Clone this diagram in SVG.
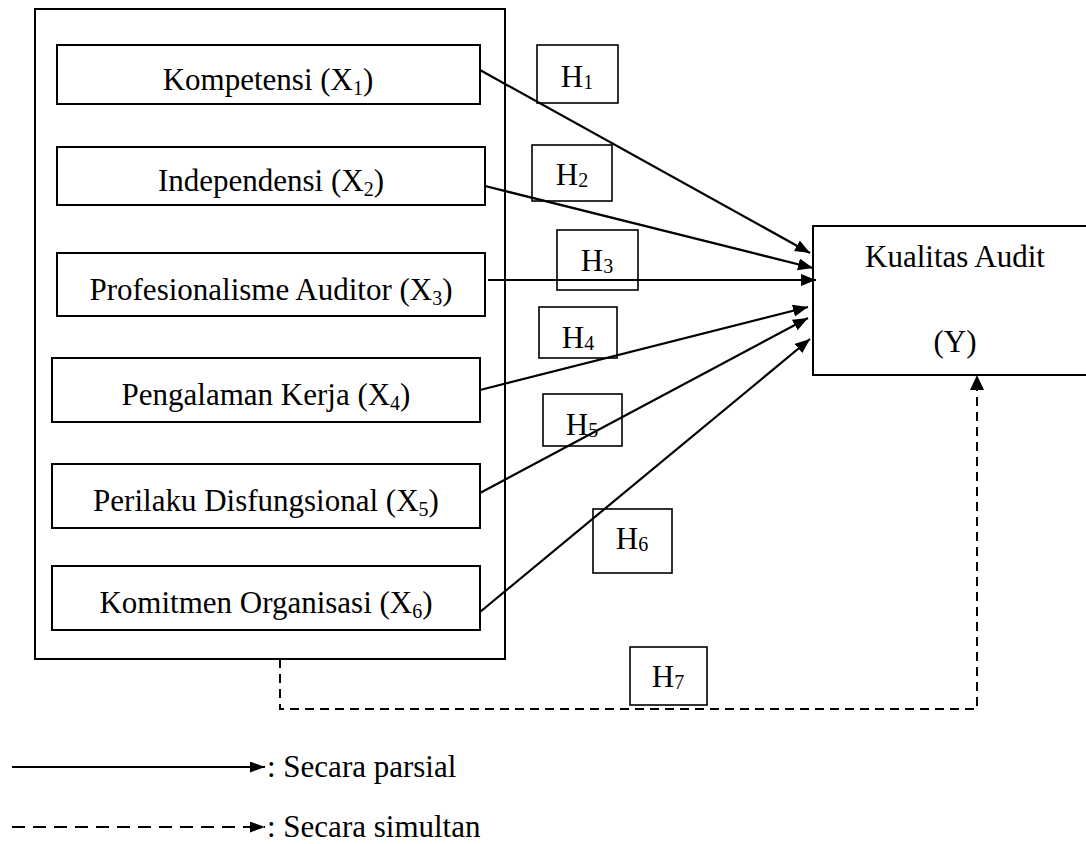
<svg xmlns="http://www.w3.org/2000/svg" width="1086" height="844" viewBox="0 0 1086 844">
<style>
  text { font-family: "Liberation Serif", "Times New Roman", serif; font-size: 31px; fill: #000; }
  .box { fill: #fff; stroke: #000; stroke-width: 2; }
  .hbox { fill: none; stroke: #000; stroke-width: 1.6; }
  .sub { font-size: 20px; }
  .arrow { fill: none; stroke: #000; stroke-width: 2.2; marker-end: url(#head); }
  .dash { fill: none; stroke: #000; stroke-width: 2; stroke-dasharray: 9 6; }
</style>
<defs>
  <marker id="head" markerUnits="userSpaceOnUse" markerWidth="16" markerHeight="13" refX="15" refY="6" orient="auto">
    <path d="M0,0 L15,6 L0,12 z" fill="#000"/>
  </marker>
  <marker id="head-sm" markerUnits="userSpaceOnUse" markerWidth="16" markerHeight="12" refX="15" refY="5.5" orient="auto">
    <path d="M0,0 L15,5.5 L0,11 z" fill="#000"/>
  </marker>
</defs>
<rect width="1086" height="844" fill="#fff"/>

<g id="group-x">
  <rect class="box" x="35" y="9" width="470" height="650"/>
</g>

<g id="x1">
  <rect class="box" x="57" y="45" width="423" height="59"/>
  <text x="268" y="90" text-anchor="middle">Kompetensi (X<tspan class="sub" dy="5">1</tspan><tspan dy="-5">)</tspan></text>
</g>
<g id="x2">
  <rect class="box" x="57" y="147" width="428" height="58"/>
  <text x="271" y="191" text-anchor="middle">Independensi (X<tspan class="sub" dy="5">2</tspan><tspan dy="-5">)</tspan></text>
</g>
<g id="x3">
  <rect class="box" x="57" y="253" width="428" height="63"/>
  <text x="271" y="300" text-anchor="middle">Profesionalisme Auditor (X<tspan class="sub" dy="5">3</tspan><tspan dy="-5">)</tspan></text>
</g>
<g id="x4">
  <rect class="box" x="52" y="358" width="428" height="64"/>
  <text x="266" y="405" text-anchor="middle">Pengalaman Kerja (X<tspan class="sub" dy="5">4</tspan><tspan dy="-5">)</tspan></text>
</g>
<g id="x5">
  <rect class="box" x="52" y="464" width="428" height="64"/>
  <text x="266" y="511" text-anchor="middle">Perilaku Disfungsional (X<tspan class="sub" dy="5">5</tspan><tspan dy="-5">)</tspan></text>
</g>
<g id="x6">
  <rect class="box" x="52" y="566" width="428" height="64"/>
  <text x="266" y="613" text-anchor="middle">Komitmen Organisasi (X<tspan class="sub" dy="5">6</tspan><tspan dy="-5">)</tspan></text>
</g>

<g id="y">
  <rect class="box" x="813" y="226" width="290" height="149"/>
  <text x="955" y="267" text-anchor="middle">Kualitas Audit</text>
  <text x="955" y="352" text-anchor="middle">(Y)</text>
</g>

<g id="connectors">
  <line class="arrow" x1="480" y1="70" x2="810" y2="253"/>
  <line class="arrow" x1="485" y1="186" x2="813" y2="268"/>
  <line class="arrow" x1="488" y1="280" x2="816" y2="280"/>
  <line class="arrow" x1="480" y1="390" x2="808" y2="307"/>
  <line class="arrow" x1="480" y1="493" x2="808" y2="318"/>
  <line class="arrow" x1="480" y1="612" x2="810" y2="339"/>
  <path class="dash" d="M280,659 L280,709 L977,709 L977,389"/>
  <path d="M970,390 L977,375 L984,390 z" fill="#000"/>
</g>

<g id="h1">
  <rect class="hbox" x="537" y="45" width="81" height="58"/>
  <text x="577" y="87" text-anchor="middle">H<tspan class="sub" dy="2">1</tspan></text>
</g>
<g id="h2">
  <rect class="hbox" x="532" y="145" width="80" height="56"/>
  <text x="572" y="185" text-anchor="middle">H<tspan class="sub" dy="2">2</tspan></text>
</g>
<g id="h3">
  <rect class="hbox" x="557" y="230" width="81" height="60"/>
  <text x="597" y="271" text-anchor="middle">H<tspan class="sub" dy="2">3</tspan></text>
</g>
<g id="h4">
  <rect class="hbox" x="539" y="307" width="78" height="51"/>
  <text x="578" y="348" text-anchor="middle">H<tspan class="sub" dy="2">4</tspan></text>
</g>
<g id="h5">
  <rect class="hbox" x="543" y="394" width="79" height="52"/>
  <text x="582" y="435" text-anchor="middle">H<tspan class="sub" dy="2">5</tspan></text>
</g>
<g id="h6">
  <rect class="hbox" x="593" y="509" width="79" height="64"/>
  <text x="632" y="549" text-anchor="middle">H<tspan class="sub" dy="2">6</tspan></text>
</g>
<g id="h7">
  <rect class="hbox" x="630" y="647" width="77" height="58"/>
  <text x="668" y="687" text-anchor="middle">H<tspan class="sub" dy="2">7</tspan></text>
</g>

<g id="legend">
  <line x1="12" y1="767" x2="265" y2="767" stroke="#000" stroke-width="2" marker-end="url(#head-sm)"/>
  <text x="267" y="777">: Secara parsial</text>
  <line x1="12" y1="827" x2="265" y2="827" stroke="#000" stroke-width="2" stroke-dasharray="13 8" marker-end="url(#head-sm)"/>
  <text x="267" y="837">: Secara simultan</text>
</g>
</svg>
